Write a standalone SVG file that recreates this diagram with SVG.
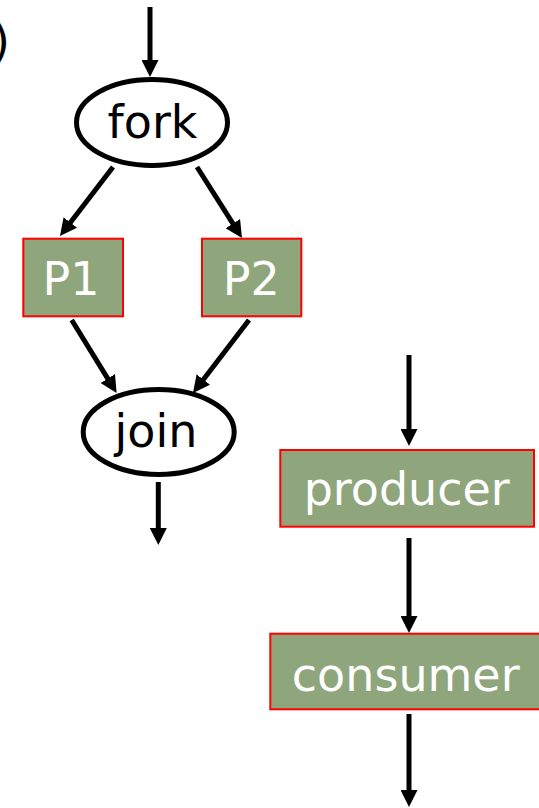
<svg xmlns="http://www.w3.org/2000/svg" width="539" height="808" viewBox="0 0 539 808">
  <style>
    .oval { fill: #ffffff; stroke: #000000; stroke-width: 5; }
    .box { fill: #8fa67c; stroke: #ff0000; stroke-width: 2; }
    .dark { font-family: "DejaVu Sans", Verdana, sans-serif; font-size: 46px; fill: #000000; text-anchor: middle; }
    .light { font-family: "DejaVu Sans", Verdana, sans-serif; font-size: 46px; fill: #ffffff; text-anchor: middle; }
    .edge { stroke: #000000; stroke-width: 5; fill: none; marker-end: url(#head); }
  </style>
  <defs>
    <marker id="head" markerUnits="userSpaceOnUse" markerWidth="17" markerHeight="17" refX="3" refY="8.5" orient="auto" viewBox="0 0 17 17">
      <path d="M0,0 L17,8.5 L0,17 z" fill="#000000"/>
    </marker>
  </defs>

  <rect width="539" height="808" fill="#ffffff"/>

  <!-- closing bracket of a label cut off at the left edge -->
  <text x="-8" y="57" class="dark" style="text-anchor:start">)</text>

  <g id="connectors">
    <line class="edge" x1="150" y1="7" x2="150" y2="63"/>
    <line class="edge" x1="113" y1="167" x2="68.5" y2="224.9"/>
    <line class="edge" x1="197" y1="167" x2="234.5" y2="226.2"/>
    <line class="edge" x1="71.7" y1="320" x2="109.3" y2="381.1"/>
    <line class="edge" x1="249" y1="320" x2="201.5" y2="381.9"/>
    <line class="edge" x1="158.3" y1="482" x2="158.3" y2="531"/>
    <line class="edge" x1="409" y1="355" x2="409" y2="432"/>
    <line class="edge" x1="409" y1="538" x2="409" y2="619"/>
    <line class="edge" x1="409" y1="714" x2="409" y2="793"/>
  </g>

  <g id="fork">
    <ellipse class="oval" cx="152" cy="122.5" rx="75.5" ry="43"/>
    <text class="dark" x="152.5" y="138">fork</text>
  </g>

  <g id="p1">
    <rect class="box" x="23.3" y="238.7" width="99.7" height="77.6"/>
    <text class="light" x="71" y="295">P1</text>
  </g>

  <g id="p2">
    <rect class="box" x="202" y="238.7" width="99.3" height="77.6"/>
    <text class="light" x="251.3" y="295">P2</text>
  </g>

  <g id="join">
    <ellipse class="oval" cx="158.7" cy="432" rx="75.5" ry="42.5"/>
    <text class="dark" x="156" y="446.7">join</text>
  </g>

  <g id="producer">
    <rect class="box" x="280.3" y="450" width="253.7" height="76.7"/>
    <text class="light" x="406.7" y="505">producer</text>
  </g>

  <g id="consumer">
    <rect class="box" x="270.3" y="633.7" width="280" height="75.6"/>
    <text class="light" x="405.7" y="691">consumer</text>
  </g>
</svg>
